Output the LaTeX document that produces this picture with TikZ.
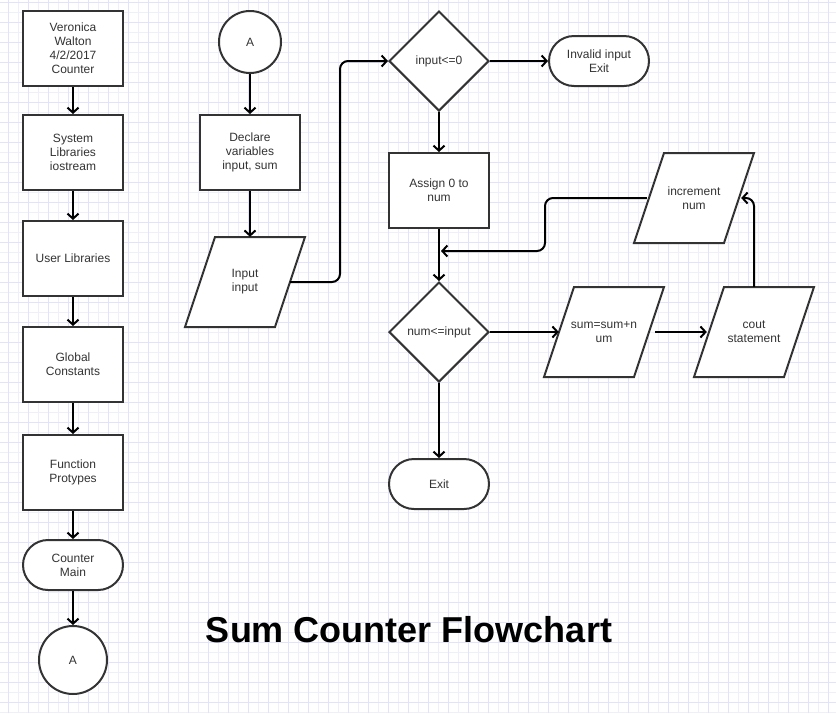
\documentclass[tikz,border=0pt]{standalone}
\usepackage{fontspec}
\setmainfont{Liberation Sans}
\usetikzlibrary{shapes.geometric,arrows.meta,calc}
\definecolor{dark}{HTML}{333333}
\definecolor{gmin}{HTML}{EFEFFC}
\definecolor{gmaj}{HTML}{E2E2FA}
\newcommand\paranode[4]{%
  \draw[shapeline] ({#2-30},{#3-45}) -- ({#2+60},{#3-45}) -- ({#2+30},{#3+45}) -- ({#2-60},{#3+45}) -- cycle;
  \node[para] (#1) at (#2,#3) {#4};}
\tikzset{
  txt/.style={text=dark, align=center, font=\fontsize{12}{14}\selectfont},
  shapeline/.style={draw=dark, line width=2pt, fill=white},
  box/.style={shapeline, txt, rectangle, minimum width=100pt, minimum height=75pt, inner sep=2pt},
  term/.style={box, minimum height=50pt, rounded corners=25pt},
  circ/.style={shapeline, txt, circle, inner sep=0pt},
  dia/.style={shapeline, txt, diamond, aspect=1, minimum width=100pt, minimum height=100pt, inner sep=0pt},
  para/.style={txt, rectangle, minimum width=90pt, minimum height=90pt, inner sep=0pt},
  conn/.style={draw=black, line width=2pt, -{Straight Barb[length=5pt,width=11pt]}},
  link/.style={draw=black, line width=2pt},
}
\begin{document}
\begin{tikzpicture}[x=1pt,y=-1pt]
\useasboundingbox (0,0) rectangle (836,713);
\fill[white] (0,0) rectangle (836,713);
% grid
\foreach \x in {8,18,...,836} { \draw[gmin, line width=1pt] (\x,0) -- (\x,713); }
\foreach \y in {2,12,...,713} { \draw[gmin, line width=1pt] (0,\y) -- (836,\y); }
\foreach \x in {8,28,...,836} { \draw[gmaj, line width=1pt] (\x,0) -- (\x,713); }
\foreach \y in {2,22,...,713} { \draw[gmaj, line width=1pt] (0,\y) -- (836,\y); }

% left column
\node[box] (v1) at (73,48.5) {Veronica\\Walton\\4/2/2017\\Counter};
\node[box] (sys) at (73,152.5) {System\\Libraries\\iostream};
\node[box] (usr) at (73,258.5) {User Libraries};
\node[box] (glob) at (73,364.5) {Global\\Constants};
\node[box] (func) at (73,472.5) {Function\\Protypes};
\node[term] (cmain) at (73,565) {Counter\\Main};
\node[circ, minimum size=68pt] (aL) at (73,660) {A};

\draw[conn] (v1) -- (sys);
\draw[conn] (sys) -- (usr);
\draw[conn] (usr) -- (glob);
\draw[conn] (glob) -- (func);
\draw[conn] (func) -- (cmain);
\draw[conn] (cmain) -- (aL);

% second column
\node[circ, minimum size=62pt] (aR) at (250,42) {A};
\node[box] (decl) at (250,152.5) {Declare\\variables\\input, sum};
\paranode{inp}{245}{282}{Input\\input}
\draw[conn] (aR) -- (decl);
\draw[conn] (decl.south) -- (decl.south |- inp.north);

% main flow
\node[dia] (d1) at (439,61) {input<=0};
\node[term] (inv) at (599,61) {Invalid input\\Exit};
\node[box] (assign) at (439,190.5) {Assign 0 to\\num};
\node[dia] (d2) at (439,332) {num<=input};
\node[term] (exit) at (439,484) {Exit};
\paranode{inc}{694}{198}{increment\\num}
\paranode{sum}{604}{332}{sum=sum+n\\um}
\paranode{cout}{754}{332}{cout\\statement}

\coordinate (k1) at (340,61);
\draw[conn, rounded corners=8pt] (inp.east) -| (k1) -- (d1.west);
\draw[conn] (d1) -- (inv);
\draw[conn] (d1) -- (assign);
\draw[conn] (assign) -- (d2);
\draw[conn] (d2) -- (exit);
\draw[conn] (d2.east) -- (sum.west);
\draw[conn] ([xshift=6pt]sum.east) -- ([xshift=-2pt]cout.west);
\draw[conn, rounded corners=8pt] (cout.north) |- ([xshift=2pt]inc.east);
\coordinate (k2) at (545,220);
\coordinate (j1) at (441,251);
\draw[conn, rounded corners=8pt] ([xshift=-2pt]inc.west) -| (k2) |- (j1);

% title
\node[font=\fontsize{36}{40}\selectfont\bfseries, text=black] (title) at (409,630) {Sum Counter Flowchart};
\end{tikzpicture}
\end{document}
